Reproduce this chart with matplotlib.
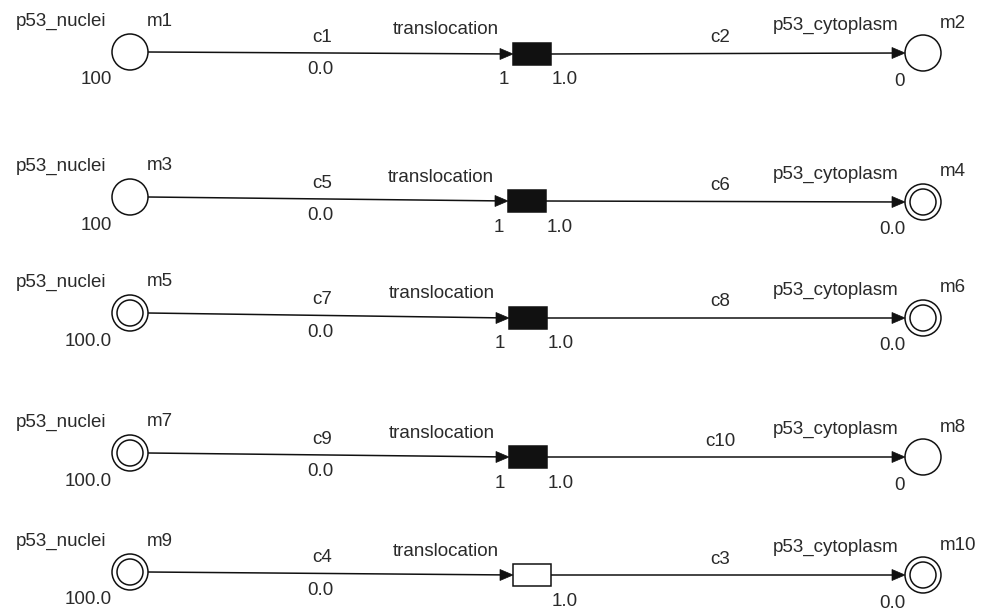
import matplotlib.pyplot as plt
from matplotlib.patches import Circle, Rectangle, Polygon

# five copies of the same p53 translocation net
src_place = ["m1", "m3", "m5", "m7", "m9"]
dst_place = ["m2", "m4", "m6", "m8", "m10"]
arc_in = ["c1", "c5", "c7", "c9", "c4"]
arc_out = ["c2", "c6", "c8", "c10", "c3"]
src_marking = ["100", "100", "100.0", "100.0", "100.0"]
dst_marking = ["0", "0.0", "0.0", "0", "0.0"]
src_continuous = [False, False, True, True, True]
dst_continuous = [False, True, True, False, True]
trans_discrete = [True, True, True, True, False]
trans_delay = ["1", "1", "1", "1", ""]
arc_in_weight = "0.0"
trans_rate = "1.0"
src_name = "p53_nuclei"
dst_name = "p53_cytoplasm"
trans_name = "translocation"

# layout (pixels)
src_y = [52, 197, 313, 453, 572]
trans_y = [54, 201, 318, 457, 575]
dst_y = [53, 202, 318, 457, 575]
trans_x0 = [513, 508, 509, 509, 513]
src_x, dst_x = 130, 923
R, R_in = 18, 13
TW, TH = 38, 22
ink = "#111111"
txt = "#2a2a2a"
fs = 13.5

plt.rcParams['font.family'] = ['Liberation Sans', 'DejaVu Sans']

fig = plt.figure(figsize=(9.83, 6.12), dpi=100)
ax = fig.add_axes([0, 0, 1, 1])
ax.set_xlim(0, 983)
ax.set_ylim(612, 0)
ax.axis('off')


def place(x, y, double):
    ax.add_patch(Circle((x, y), R, fill=True, fc='white', ec=ink, lw=1.1, zorder=3))
    if double:
        ax.add_patch(Circle((x, y), R_in, fill=False, ec=ink, lw=1.1, zorder=4))


def arrow(x0, y0, x1, y1):
    ax.plot([x0, x1 - 10], [y0, y1 - (y1 - y0) * 10 / (x1 - x0)], color=ink, lw=1.1, zorder=2)
    ax.add_patch(Polygon([(x1, y1), (x1 - 13, y1 - 5.5), (x1 - 13, y1 + 5.5)],
                         closed=True, fc=ink, ec=ink, lw=0.5, zorder=3))


for i in range(5):
    sy, ty, dy = src_y[i], trans_y[i], dst_y[i]
    tx0 = trans_x0[i]
    tx1 = tx0 + TW

    place(src_x, sy, src_continuous[i])
    place(dst_x, dy, dst_continuous[i])
    ax.add_patch(Rectangle((tx0, ty - TH / 2), TW, TH,
                           fc=ink if trans_discrete[i] else 'white', ec=ink, lw=1.1, zorder=3))

    arrow(src_x + R, sy, tx0, ty)
    arrow(tx1, ty, dst_x - R, dy)

    # place labels
    ax.text(61, sy - 31, src_name, ha='center', va='center', fontsize=fs, color=txt)
    ax.text(147, sy - 31, src_place[i], ha='left', va='center', fontsize=fs, color=txt)
    ax.text(112, sy + 28, src_marking[i], ha='right', va='center', fontsize=fs, color=txt)

    ax.text(836, dy - 28, dst_name, ha='center', va='center', fontsize=fs, color=txt)
    ax.text(940, dy - 30, dst_place[i], ha='left', va='center', fontsize=fs, color=txt)
    ax.text(905, dy + 28, dst_marking[i], ha='right', va='center', fontsize=fs, color=txt)

    # transition labels
    ax.text(tx0 - 120, ty - 24, trans_name, ha='left', va='center', fontsize=fs, color=txt)
    ax.text(tx0 - 9, ty + 26, trans_delay[i], ha='center', va='center', fontsize=fs, color=txt)
    ax.text(tx1 + 1, ty + 26, trans_rate, ha='left', va='center', fontsize=fs, color=txt)

    # arc labels
    ax.text(322, (sy + ty) / 2 - 16, arc_in[i], ha='center', va='center', fontsize=fs, color=txt)
    ax.text(320, (sy + ty) / 2 + 17, arc_in_weight, ha='center', va='center', fontsize=fs, color=txt)
    ax.text(720, (ty + dy) / 2 - 16, arc_out[i], ha='center', va='center', fontsize=fs, color=txt)

fig.savefig("out.png", dpi=100, facecolor='white')
